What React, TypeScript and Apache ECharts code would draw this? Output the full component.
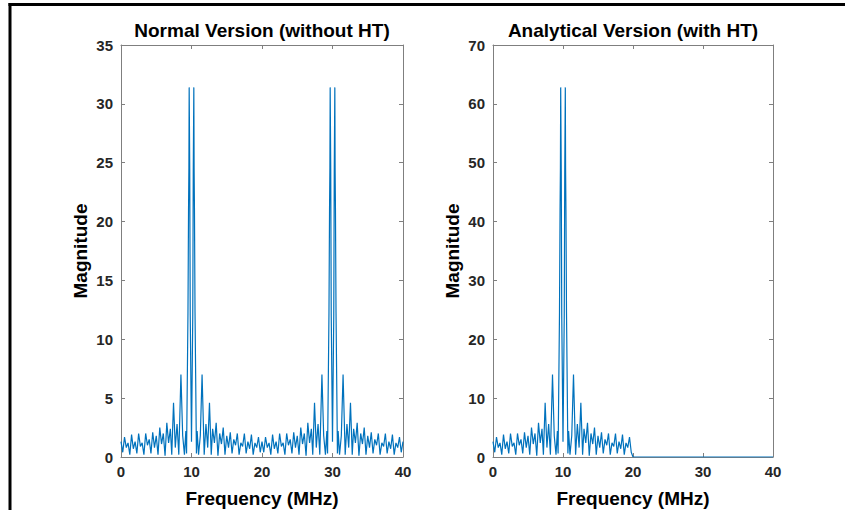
import React, { useEffect, useRef } from "react";
import * as echarts from "echarts";

// ---- Data ----
const xTicks = [0, 10, 20, 30, 40];
const yTicksNormal = [0, 5, 10, 15, 20, 25, 30, 35];
const yTicksAnalytic = [0, 10, 20, 30, 40, 50, 60, 70];

// Normal version (without HT): 0 - 20 MHz
const normFreqLow = [
  0, 0.25, 0.5, 0.75, 1, 1.25, 1.5, 1.75, 2, 2.25, 2.5, 2.75, 3, 3.25, 3.5, 3.75,
  4, 4.25, 4.5, 4.75, 5, 5.25, 5.5, 5.75, 6, 6.25, 6.5, 6.75, 7,
  7.2, 7.45, 7.7, 7.95, 8.2, 8.5, 8.75, 9, 9.2, 9.3, 9.5, 9.58, 9.63, 9.67, 9.75, 9.82,
  10, 10.18, 10.25, 10.33, 10.37, 10.42, 10.5, 10.7, 10.8, 11, 11.25, 11.5, 11.8, 12.05,
  12.3, 12.55, 12.8, 13,
  13.25, 13.5, 13.75, 14, 14.25, 14.5, 14.75, 15, 15.25, 15.5, 15.75, 16, 16.25, 16.5,
  16.75, 17, 17.25, 17.5, 17.75, 18, 18.25, 18.5, 18.75, 19, 19.25, 19.5, 19.75, 20,
];
const normMagLow = [
  1.3, 0.4, 1.7, 0.8, 1.2, 0.2, 1.9, 0.7, 1.3, 0.3, 2.0, 0.9, 1.2, 0.2, 2.0, 1.0,
  1.5, 0.3, 2.1, 0.8, 1.8, 0.2, 2.5, 1.1, 2.0, 0.1, 2.9, 1.2, 2.4,
  0.2, 4.6, 0.8, 2.8, 0.2, 7.0, 1.8, 0.2, 2.2, 0.3, 12.3, 21.0, 24.5, 31.4, 24.3, 12.1,
  1.3, 12.1, 24.3, 31.4, 24.5, 21.0, 12.3, 0.3, 2.2, 0.2, 1.8, 7.0, 0.2, 2.8,
  0.8, 4.6, 0.2, 2.4,
  1.2, 2.9, 0.1, 2.0, 1.1, 2.5, 0.2, 1.8, 0.8, 2.1, 0.3, 1.5, 1.0, 2.0,
  0.2, 1.2, 0.9, 2.0, 0.3, 1.3, 0.7, 1.9, 0.2, 1.2, 0.8, 1.7, 0.4, 1.3,
];

// Normal version (without HT): 20 - 40 MHz
const normFreqHigh = [
  20.25, 20.5, 20.75, 21, 21.25, 21.5, 21.75, 22, 22.25, 22.5, 22.75, 23, 23.25, 23.5,
  23.75, 24, 24.25, 24.5, 24.75, 25, 25.25, 25.5, 25.75, 26, 26.25, 26.5, 26.75, 27,
  27.2, 27.45, 27.7, 27.95, 28.2, 28.5, 28.75, 29, 29.2, 29.3, 29.5, 29.58, 29.63, 29.67,
  29.75, 29.82, 30, 30.18, 30.25, 30.33, 30.37, 30.42, 30.5, 30.7, 30.8, 31, 31.25, 31.5,
  31.8, 32.05, 32.3, 32.55, 32.8, 33,
  33.25, 33.5, 33.75, 34, 34.25, 34.5, 34.75, 35, 35.25, 35.5, 35.75, 36, 36.25, 36.5,
  36.75, 37, 37.25, 37.5, 37.75, 38, 38.25, 38.5, 38.75, 39, 39.25, 39.5, 39.75, 40,
];
const normMagHigh = [
  0.4, 1.7, 0.8, 1.2, 0.2, 1.9, 0.7, 1.3, 0.3, 2.0, 0.9, 1.2, 0.2, 2.0,
  1.0, 1.5, 0.3, 2.1, 0.8, 1.8, 0.2, 2.5, 1.1, 2.0, 0.1, 2.9, 1.2, 2.4,
  0.2, 4.6, 0.8, 2.8, 0.2, 7.0, 1.8, 0.2, 2.2, 0.3, 12.3, 21.0, 24.5, 31.4,
  24.3, 12.1, 1.3, 12.1, 24.3, 31.4, 24.5, 21.0, 12.3, 0.3, 2.2, 0.2, 1.8, 7.0,
  0.2, 2.8, 0.8, 4.6, 0.2, 2.4,
  1.2, 2.9, 0.1, 2.0, 1.1, 2.5, 0.2, 1.8, 0.8, 2.1, 0.3, 1.5, 1.0, 2.0,
  0.2, 1.2, 0.9, 2.0, 0.3, 1.3, 0.7, 1.9, 0.2, 1.2, 0.8, 1.7, 0.4, 1.3,
];

// Analytical version (with HT): 0 - 40 MHz
const anaFreq = [
  0, 0.25, 0.5, 0.75, 1, 1.25, 1.5, 1.75, 2, 2.25, 2.5, 2.75, 3, 3.25, 3.5, 3.75,
  4, 4.25, 4.5, 4.75, 5, 5.25, 5.5, 5.75, 6, 6.25, 6.5, 6.75, 7,
  7.2, 7.45, 7.7, 7.95, 8.2, 8.5, 8.75, 9, 9.2, 9.3, 9.5, 9.58, 9.63, 9.67, 9.75, 9.82,
  10, 10.18, 10.25, 10.33, 10.37, 10.42, 10.5, 10.7, 10.8, 11, 11.25, 11.5, 11.8, 12.05,
  12.3, 12.55, 12.8, 13,
  13.25, 13.5, 13.75, 14, 14.25, 14.5, 14.75, 15, 15.25, 15.5, 15.75, 16, 16.25, 16.5,
  16.75, 17, 17.25, 17.5, 17.75, 18, 18.25, 18.5, 18.75, 19, 19.25, 19.5, 19.75, 20, 40,
];
const anaMag = [
  2.6, 0.8, 3.4, 1.6, 2.4, 0.4, 3.8, 1.4, 2.6, 0.6, 4.0, 1.8, 2.4, 0.4, 4.0, 2.0,
  3.0, 0.6, 4.2, 1.6, 3.6, 0.4, 5.0, 2.2, 4.0, 0.2, 5.8, 2.4, 4.8,
  0.4, 9.2, 1.6, 5.6, 0.4, 14.0, 3.6, 0.4, 4.4, 0.6, 24.6, 42.0, 49.0, 62.8, 48.6, 24.2,
  2.6, 24.2, 48.6, 62.8, 49.0, 42.0, 24.6, 0.6, 4.4, 0.4, 3.6, 14.0, 0.4, 5.6,
  1.6, 9.2, 0.4, 4.8,
  2.4, 5.8, 0.2, 4.0, 2.2, 5.0, 0.4, 3.6, 1.6, 4.2, 0.6, 3.0, 2.0, 4.0,
  0.4, 2.4, 1.8, 4.0, 0.6, 2.6, 1.4, 3.8, 0.4, 2.4, 1.6, 3.4, 0.8, 0, 0,
];

const titles = ["Normal Version (without HT)", "Analytical Version (with HT)"];
const xName = "Frequency (MHz)";
const yName = "Magnitude";

// ---- Styling ----
const FONT = '"Liberation Sans", Arial, Helvetica, sans-serif';
const LINE = "#0072BD";
const AX = "#7f7f7f";
const GRIDS = [
  { left: 121, top: 45, width: 282, height: 412 },
  { left: 493, top: 45, width: 280, height: 412 },
];

function pairs(xs: number[], ys: number[]) {
  return xs.map((x, i) => [x, ys[i]]);
}

function xAxisDef(gi: number, pos: "bottom" | "top", labels: boolean) {
  return {
    type: "value",
    gridIndex: gi,
    position: pos,
    min: xTicks[0],
    max: xTicks[xTicks.length - 1],
    interval: xTicks[1] - xTicks[0],
    axisLine: { show: true, onZero: false, lineStyle: { color: AX, width: 1 } },
    axisTick: { show: true, inside: true, length: 4, lineStyle: { color: AX, width: 1 } },
    axisLabel: {
      show: labels,
      margin: 7,
      color: "#262626",
      fontFamily: FONT,
      fontWeight: "bold",
      fontSize: 15,
    },
    splitLine: { show: false },
  };
}

function yAxisDef(gi: number, pos: "left" | "right", labels: boolean, ticks: number[]) {
  return {
    type: "value",
    gridIndex: gi,
    position: pos,
    min: ticks[0],
    max: ticks[ticks.length - 1],
    interval: ticks[1] - ticks[0],
    axisLine: { show: true, onZero: false, lineStyle: { color: AX, width: 1 } },
    axisTick: { show: true, inside: true, length: 4, lineStyle: { color: AX, width: 1 } },
    axisLabel: {
      show: labels,
      margin: 8,
      color: "#262626",
      fontFamily: FONT,
      fontWeight: "bold",
      fontSize: 15,
    },
    splitLine: { show: false },
  };
}

function textEl(text: string, x: number, y: number, size: number, rotation = 0) {
  return {
    type: "text",
    x,
    y,
    rotation,
    style: {
      text,
      fill: "#000",
      font: `bold ${size}px ${FONT}`,
      align: "center",
      verticalAlign: "middle",
    },
  };
}

function buildOption() {
  const centers = GRIDS.map((g) => g.left + g.width / 2);
  return {
    animation: false,
    backgroundColor: "#ffffff",
    grid: GRIDS,
    xAxis: [
      xAxisDef(0, "bottom", true),
      xAxisDef(0, "top", false),
      xAxisDef(1, "bottom", true),
      xAxisDef(1, "top", false),
    ],
    yAxis: [
      yAxisDef(0, "left", true, yTicksNormal),
      yAxisDef(0, "right", false, yTicksNormal),
      yAxisDef(1, "left", true, yTicksAnalytic),
      yAxisDef(1, "right", false, yTicksAnalytic),
    ],
    series: [
      {
        type: "line",
        xAxisIndex: 0,
        yAxisIndex: 0,
        showSymbol: false,
        symbol: "none",
        lineStyle: { color: LINE, width: 1.2 },
        itemStyle: { color: LINE },
        data: pairs(normFreqLow, normMagLow).concat(pairs(normFreqHigh, normMagHigh)),
      },
      {
        type: "line",
        xAxisIndex: 2,
        yAxisIndex: 2,
        showSymbol: false,
        symbol: "none",
        lineStyle: { color: LINE, width: 1.2 },
        itemStyle: { color: LINE },
        data: pairs(anaFreq, anaMag),
      },
    ],
    graphic: [
      { type: "rect", shape: { x: 8.5, y: 3, width: 840, height: 3 }, style: { fill: "#000" } },
      { type: "rect", shape: { x: 8.5, y: 3, width: 3, height: 510 }, style: { fill: "#000" } },
      textEl(titles[0], centers[0], 30, 19),
      textEl(titles[1], centers[1], 30, 19),
      textEl(xName, centers[0], 498, 19),
      textEl(xName, centers[1], 498, 19),
      textEl(yName, 80, 251, 19, Math.PI / 2),
      textEl(yName, 452, 251, 19, Math.PI / 2),
    ],
  };
}

export default function App() {
  const ref = useRef<HTMLDivElement>(null);
  useEffect(() => {
    if (!ref.current) return;
    const chart = echarts.init(ref.current, null, { renderer: "svg" });
    chart.setOption(buildOption() as any);
    return () => chart.dispose();
  }, []);
  return (
    <div
      ref={ref}
      style={{ position: "fixed", left: 0, top: 0, width: 845, height: 510, background: "#fff" }}
    />
  );
}
